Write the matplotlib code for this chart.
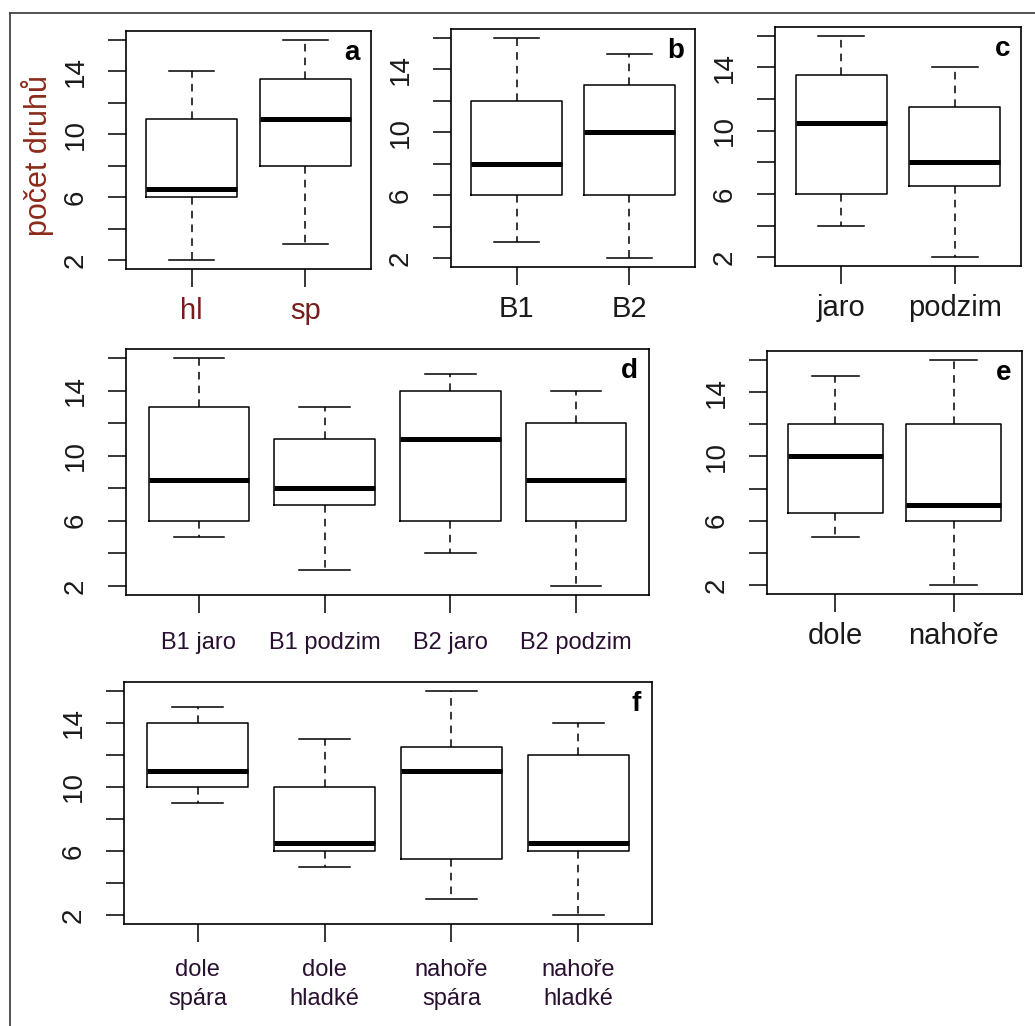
import matplotlib.pyplot as plt
from matplotlib.lines import Line2D

plt.rcParams['font.family'] = ['Liberation Sans', 'DejaVu Sans']

# počty druhů - souhrnne statistiky boxplotu (dolni vous, Q1, median, Q3, horni vous)
a_labels = ['hl', 'sp']
a_low = [2, 3]
a_q1 = [6, 8]
a_med = [6.5, 11]
a_q3 = [11, 13.5]
a_high = [14, 16]

b_labels = ['B1', 'B2']
b_low = [3, 2]
b_q1 = [6, 6]
b_med = [8, 10]
b_q3 = [12, 13]
b_high = [16, 15]

c_labels = ['jaro', 'podzim']
c_low = [4, 2]
c_q1 = [6, 6.5]
c_med = [10.5, 8]
c_q3 = [13.5, 11.5]
c_high = [16, 14]

d_labels = ['B1 jaro', 'B1 podzim', 'B2 jaro', 'B2 podzim']
d_low = [5, 3, 4, 2]
d_q1 = [6, 7, 6, 6]
d_med = [8.5, 8, 11, 8.5]
d_q3 = [13, 11, 14, 12]
d_high = [16, 13, 15, 14]

e_labels = ['dole', 'nahoře']
e_low = [5, 2]
e_q1 = [6.5, 6]
e_med = [10, 7]
e_q3 = [12, 12]
e_high = [15, 16]

f_labels = ['dole\nspára', 'dole\nhladké', 'nahoře\nspára', 'nahoře\nhladké']
f_low = [9, 5, 3, 2]
f_q1 = [10, 6, 5.5, 6]
f_med = [11, 6.5, 11, 6.5]
f_q3 = [14, 10, 12.5, 12]
f_high = [15, 13, 16, 14]

W, H = 1035, 1026
fig = plt.figure(figsize=(W / 100, H / 100), dpi=100)

# ramecek kolem celeho obrazku (jen horni a leva hrana jsou videt)
fig.add_artist(Line2D([10 / W, 10 / W], [0, 1 - 13 / H], color='#444444', lw=1.3))
fig.add_artist(Line2D([10 / W, 1], [1 - 13 / H, 1 - 13 / H], color='#444444', lw=1.3))


def panel(rect, letter, labels, low, q1, med, q3, high, fs, pad, lcolor='#1a1a1a'):
    x0, y0, x1, y1 = rect
    ax = fig.add_axes([x0 / W, 1 - y1 / H, (x1 - x0) / W, (y1 - y0) / H])
    stats = [dict(whislo=lo, q1=a, med=m, q3=b, whishi=hi)
             for lo, a, m, b, hi in zip(low, q1, med, q3, high)]
    ax.bxp(stats, positions=range(1, len(stats) + 1), widths=0.8, capwidths=0.4,
           showfliers=False, patch_artist=False,
           boxprops=dict(color='black', lw=1.1),
           whiskerprops=dict(color='black', lw=1.1, linestyle=(0, (5, 4))),
           capprops=dict(color='black', lw=1.1),
           medianprops=dict(color='black', lw=3.6))
    n = len(stats)
    ax.set_xlim(0.42, n + 0.58)
    ax.set_ylim(1.44, 16.56)
    ax.set_xticks(range(1, n + 1))
    ax.set_xticklabels(labels, fontsize=fs, color=lcolor, linespacing=1.45)
    ax.set_yticks(range(2, 17, 2))
    ax.set_yticklabels(['2', '', '6', '', '10', '', '14', ''], fontsize=20,
                       rotation=90, va='center', color='#1a1a1a')
    ax.tick_params(axis='x', length=13, width=1.1, pad=pad)
    ax.tick_params(axis='y', length=13, width=1.1, pad=14)
    for s in ax.spines.values():
        s.set_linewidth(1.2)
    ax.annotate(letter, xy=(1, 1), xycoords='axes fraction', xytext=(-8, -21),
                textcoords='offset points', ha='right', va='baseline',
                fontsize=20, fontweight='bold')
    return ax


panel((126, 31, 371, 269), 'a', a_labels, a_low, a_q1, a_med, a_q3, a_high,
      21, 7, lcolor='#7a1c1c')
panel((451, 29, 695, 267), 'b', b_labels, b_low, b_q1, b_med, b_q3, b_high, 21, 7)
panel((775, 27, 1021, 266), 'c', c_labels, c_low, c_q1, c_med, c_q3, c_high, 21, 7)
panel((126, 349, 649, 595), 'd', d_labels, d_low, d_q1, d_med, d_q3, d_high, 17, 14,
      lcolor='#2a1030')
panel((767, 351, 1022, 594), 'e', e_labels, e_low, e_q1, e_med, e_q3, e_high, 21, 7)
panel((124, 682, 652, 924), 'f', f_labels, f_low, f_q1, f_med, f_q3, f_high, 17, 12,
      lcolor='#2a1030')

fig.text(38 / W, 1 - 155 / H, 'počet druhů', rotation=90, ha='center', va='center',
         fontsize=22, color='#8b2a1a')

fig.savefig('out.png', dpi=100, facecolor='white')
